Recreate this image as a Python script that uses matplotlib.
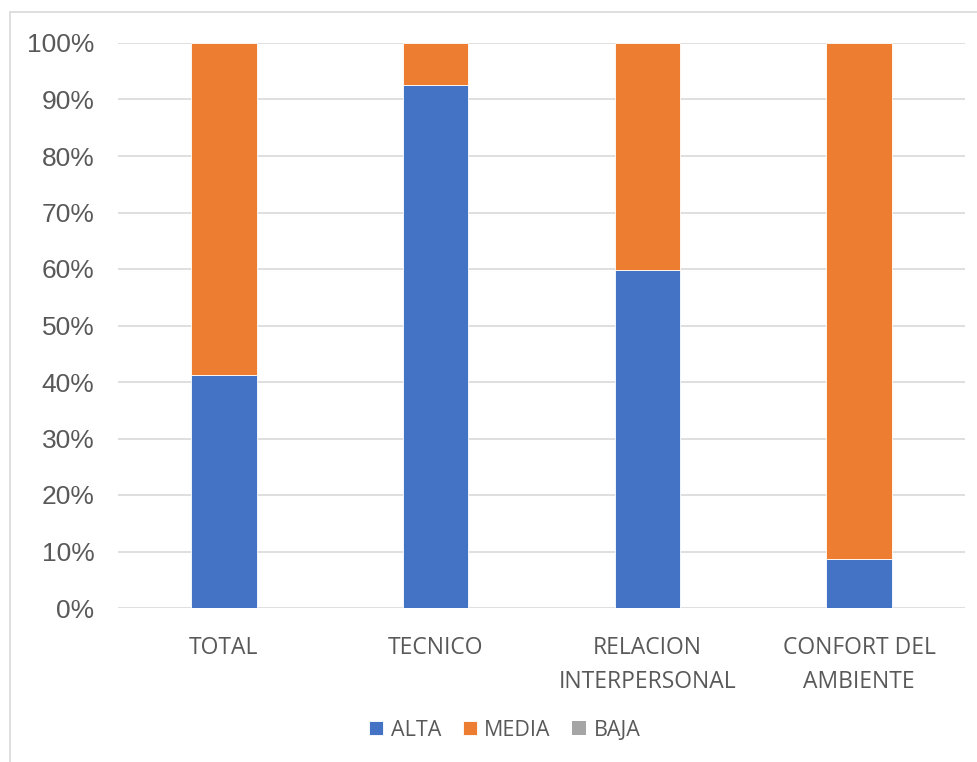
import numpy as np
import matplotlib
matplotlib.use('Agg')
import matplotlib.pyplot as plt
from matplotlib.patches import Rectangle
from matplotlib.ticker import PercentFormatter

# datos (porcentajes)
categorias = ['TOTAL', 'TECNICO', 'RELACION\nINTERPERSONAL', 'CONFORT DEL\nAMBIENTE']
alta = [41.2, 92.5, 59.9, 8.6]
media = [58.8, 7.5, 40.1, 91.4]
baja = [0, 0, 0, 0]

colores = {'ALTA': '#4472C4', 'MEDIA': '#ED7D31', 'BAJA': '#A5A5A5'}

fig = plt.figure(figsize=(9.78, 7.62), dpi=100)
ax = fig.add_axes([118/978, 1 - 608/762, 847/978, 565/762])

x = np.arange(len(categorias))
ancho = 0.31
ax.bar(x, alta, ancho, color=colores['ALTA'], label='ALTA', edgecolor='white', linewidth=0.6, zorder=3)
ax.bar(x, media, ancho, bottom=alta, color=colores['MEDIA'], label='MEDIA', edgecolor='white', linewidth=0.6, zorder=3)
ax.bar(x, baja, ancho, bottom=np.array(alta) + np.array(media), color=colores['BAJA'], label='BAJA', zorder=3)

ax.set_xlim(-0.5, len(categorias) - 0.5)
ax.set_ylim(0, 100)
ax.set_yticks(np.arange(0, 101, 10))
ax.yaxis.set_major_formatter(PercentFormatter(decimals=0))
ax.grid(axis='y', color='#D9D9D9', linewidth=1.2, zorder=0)
for s in ax.spines.values():
    s.set_visible(False)
ax.tick_params(axis='both', length=0, colors='#595959')
ax.tick_params(axis='y', labelsize=19, pad=17)
ax.tick_params(axis='x', labelsize=16.5, pad=20)
for t in ax.get_yticklabels():
    t.set_fontfamily('Liberation Sans')
ax.set_xticks(x)
ax.set_xticklabels(categorias, fontfamily='Open Sans', linespacing=1.55)

ley = fig.legend(loc='center', bbox_to_anchor=(505/978, 1 - 730/762), ncol=3, frameon=False,
                 prop={'family': 'Open Sans', 'size': 15.5}, handlelength=0.65, handleheight=0.65,
                 columnspacing=1.0, handletextpad=0.35)
for t in ley.get_texts():
    t.set_color('#595959')

# marco exterior
fig.patches.append(Rectangle((10/978, -0.01), 1.0, 1 - 12/762 + 0.01, transform=fig.transFigure,
                             fill=False, edgecolor='#D9D9D9', linewidth=1.2))

fig.savefig('out.png', dpi=100)
